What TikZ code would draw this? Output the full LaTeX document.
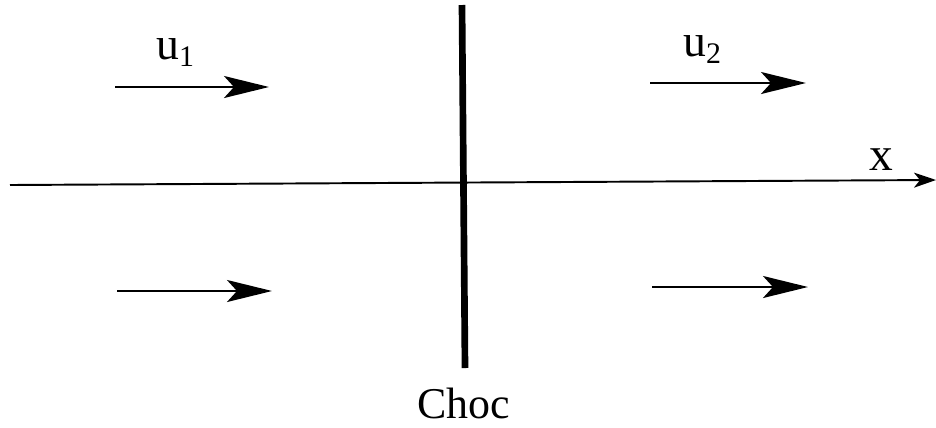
\documentclass[tikz,border=0pt]{standalone}
\usepackage{fontspec}
\setmainfont{Liberation Serif}
\usetikzlibrary{arrows.meta}
\newcommand{\lbl}[2]{\fontsize{26}{30}\selectfont #1\raisebox{-4pt}{\fontsize{17}{17}\selectfont #2}}

\begin{document}
\begin{tikzpicture}[x=0.02cm,y=-0.02cm,
  flow/.style={line width=1.4pt, -{Stealth[length=0.9cm, width=0.44cm, inset=0.2cm]}},
  axis/.style={line width=1.1pt, -{Stealth[length=0.44cm, width=0.3cm, inset=0.12cm]}},
  every node/.style={inner sep=0pt}]
  \useasboundingbox (0,0) rectangle (936,427);

  % axe x
  \coordinate (o) at (10,185);
  \coordinate (e) at (936,180);
  \draw[axis] (o) -- (e);
  \node at (881,160) (xl) {\fontsize{27}{30}\selectfont x};

  % choc
  \coordinate (ct) at (462,5);
  \coordinate (cb) at (465,368);
  \draw[line width=3.8pt] (ct) -- (cb);
  \node[anchor=base] at (464,418) (choc) {\fontsize{25}{30}\selectfont Choc};

  % vitesses
  \coordinate (a1) at (115,87);
  \coordinate (b1) at (269,87);
  \coordinate (a2) at (650,83);
  \coordinate (b2) at (806,83);
  \coordinate (a3) at (117,291);
  \coordinate (b3) at (272,291);
  \coordinate (a4) at (652,287);
  \coordinate (b4) at (808,287);
  \draw[flow] (a1) -- (b1);
  \draw[flow] (a2) -- (b2);
  \draw[flow] (a3) -- (b3);
  \draw[flow] (a4) -- (b4);

  \node[anchor=base west] at (156,59) (u1) {\lbl{u}{1}};
  \node[anchor=base west] at (683,56) (u2) {\lbl{u}{2}};

\end{tikzpicture}
\end{document}
